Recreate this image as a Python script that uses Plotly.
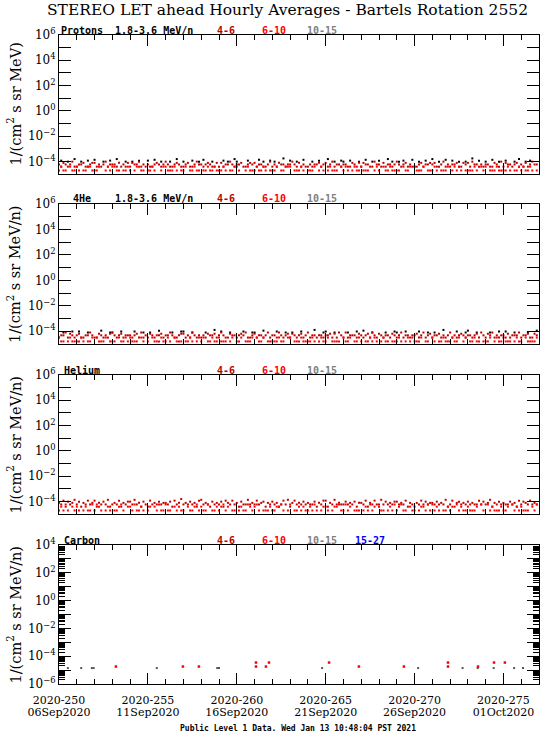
import plotly.graph_objects as go

# ---------------- data ----------------
START_DAY = 250          # 2020 day-of-year of first sample (06 Sep 2020)
STEP_HOURS = 3           # sample spacing of the hourly-average lists below

TITLE = "STEREO LET ahead Hourly Averages - Bartels Rotation 2552"
FOOTER = "Public Level 1 Data. Wed Jan 13 10:48:04 PST 2021"

x_tickvals = [250, 255, 260, 265, 270, 275]
x_ticktext_doy = ["2020-250", "2020-255", "2020-260", "2020-265", "2020-270", "2020-275"]
x_ticktext_date = ["06Sep2020", "11Sep2020", "16Sep2020", "21Sep2020", "26Sep2020", "01Oct2020"]

# flux per count (1/(cm^2 s sr MeV/n)) for each panel
unit_protons = 1.9e-5
unit_4he = 1.6e-5
unit_helium = 1.9e-5

# Protons: counts per sample (0 = no data)
protons_18_36 = [
    0,6,0,0,5,0,0,8, 0,0,5,0,0,6,0,0, 7,0,0,0,5,0,0,6, 0,0,8,0,0,0,5,0,
    0,5,0,0,6,0,0,0, 6,0,0,7,0,0,5,0, 0,0,5,0,0,8,0,0, 5,0,0,0,6,0,0,5,
    0,7,0,0,0,5,0,0, 0,0,6,0,5,0,0,8, 5,0,0,0,0,6,0,0, 0,0,7,0,5,0,0,6,
    0,5,0,0,0,9,0,0, 6,0,0,5,0,0,7,0, 0,0,5,0,0,6,0,0, 0,8,0,0,5,0,0,6,
    5,0,0,6,0,0,0,5, 0,0,7,0,0,5,0,0, 6,0,0,0,8,0,5,0, 0,5,0,6,0,0,0,7,
    0,0,5,0,0,6,0,0, 8,0,0,5,0,0,7,0, 0,6,0,0,5,0,0,5, 0,0,9,0,0,6,0,0,
    5,0,0,7,0,0,5,0, 0,6,0,0,0,5,0,8, 0,0,5,0,6,0,0,0]
protons_4_6 = [
    3,2,4,3,2,3,5,2, 2,3,3,4,2,2,3,4, 4,2,3,2,3,5,2,3, 3,3,2,4,2,3,2,4,
    2,4,3,3,5,2,3,2, 3,2,2,3,4,3,2,3, 5,3,2,2,3,4,3,2, 2,3,4,2,2,3,5,3,
    3,2,3,4,3,2,2,4, 2,4,2,3,3,5,3,2, 3,3,4,2,2,3,4,3, 4,2,3,3,2,2,3,5,
    2,3,2,4,3,3,2,3, 3,5,3,2,4,2,3,2, 2,3,2,3,3,4,2,3, 4,2,3,5,2,3,3,2,
    3,3,2,2,4,3,2,4, 2,4,3,3,2,2,5,3, 3,2,4,2,3,3,2,3, 5,3,2,3,4,2,3,2,
    2,2,3,4,2,3,3,4, 3,4,2,2,3,5,2,3, 2,3,3,4,2,2,4,3, 4,2,5,3,3,2,3,2,
    3,3,2,2,4,3,2,5, 2,4,3,3,2,3,4,2, 3,2,4,2,3,5,3,3]
protons_6_10 = [
    1,2,1,1,0,2,1,1, 2,1,0,1,1,2,2,1, 1,1,2,0,0,1,2,1, 2,2,1,1,0,1,1,2,
    1,0,1,2,2,1,1,0, 1,1,2,1,0,0,1,2, 2,1,1,1,2,1,0,1, 1,2,0,1,1,2,1,1,
    0,1,1,2,1,1,2,1, 1,1,2,1,0,1,1,2, 2,1,0,0,1,2,1,1, 1,2,1,1,2,1,0,1,
    1,1,2,0,1,1,2,2, 2,0,1,1,1,2,1,0, 1,1,1,2,0,1,2,1, 0,1,2,1,1,1,0,2,
    1,2,1,0,1,2,1,1, 2,1,1,1,0,0,1,2, 1,0,2,1,1,2,1,1, 1,1,0,2,1,1,2,0,
    2,1,1,1,2,0,1,1, 1,2,1,0,1,1,1,2, 0,1,2,1,2,1,0,1, 1,1,1,2,1,0,2,1,
    2,0,1,1,1,2,1,1, 1,1,2,1,0,1,1,2, 1,2,1,1,2,1,0,1]

# 4He
he4_18_36 = [
    0,0,5,0,0,0,6,0, 0,6,0,0,0,5,0,0, 0,0,0,7,0,0,0,5, 5,0,0,0,6,0,0,0,
    0,0,6,0,0,0,5,0, 0,5,0,0,0,7,0,0, 0,0,0,5,0,0,0,6, 6,0,0,0,5,0,0,0,
    0,0,5,0,0,0,8,0, 0,6,0,0,0,5,0,0, 0,0,0,6,0,0,0,5, 5,0,0,0,7,0,0,0,
    0,0,6,0,0,0,5,0, 0,5,0,0,0,6,0,0, 0,0,0,8,0,0,0,5, 6,0,0,0,5,0,0,0,
    0,0,5,0,0,0,6,0, 0,7,0,0,0,5,0,0, 0,0,0,5,0,0,0,6, 5,0,0,0,6,0,0,0,
    0,0,6,0,0,0,5,0, 0,5,0,0,0,8,0,0, 0,0,0,6,0,0,0,5, 7,0,0,0,5,0,0,0,
    0,0,5,0,0,0,6,0, 0,6,0,0,0,5,0,0, 0,0,0,5,0,0,0,7]
he4_4_6 = [
    2,3,3,5,2,4,3,2, 3,4,2,2,3,3,5,3, 2,2,4,3,2,3,2,4, 5,3,2,3,4,2,3,3,
    3,2,3,4,2,5,2,3, 2,4,3,2,3,3,4,2, 3,3,5,3,2,2,3,4, 4,2,3,2,5,3,2,3,
    2,3,2,4,3,3,4,2, 3,5,3,2,2,4,3,3, 2,3,4,3,5,2,2,3, 4,2,3,3,2,3,5,2,
    3,3,2,5,3,2,3,4, 2,4,3,2,3,4,2,3, 5,2,3,3,2,3,3,2, 3,3,4,2,4,2,5,3,
    2,5,2,3,3,3,2,4, 3,2,3,4,2,5,3,2, 4,3,2,3,3,2,4,3, 2,3,5,2,3,3,2,3,
    3,4,2,3,5,2,3,4, 2,3,3,4,2,3,2,3, 5,2,3,2,3,4,3,2, 3,3,2,3,4,2,5,3,
    2,4,3,5,2,3,2,3, 3,2,4,2,3,3,3,5, 2,3,3,4,2,2,4,3]
he4_6_10 = [
    2,1,1,0,1,2,1,1, 1,1,2,1,0,1,1,2, 0,2,1,1,1,2,0,1, 1,1,0,2,1,1,2,1,
    2,1,1,1,0,2,1,0, 1,0,2,1,1,1,2,1, 1,2,1,0,2,1,1,1, 0,1,1,2,1,0,1,2,
    1,2,0,1,1,2,1,1, 2,1,1,1,0,1,2,0, 1,1,2,0,1,1,1,2, 0,2,1,1,2,0,1,1,
    1,1,1,2,1,1,0,2, 2,0,1,1,1,2,1,1, 1,1,2,1,0,1,2,1, 1,2,0,1,1,1,1,0,
    2,1,1,2,0,1,1,2, 1,0,1,1,2,1,2,1, 0,1,2,1,1,0,1,1, 1,2,1,0,1,2,1,2,
    1,1,1,2,0,1,1,0, 2,1,0,1,1,2,1,1, 1,2,1,1,2,0,1,2, 0,1,1,2,1,1,0,1,
    1,1,2,0,1,2,1,1, 2,1,1,1,0,1,2,1, 1,0,2,1,1,1,1,2]

# Helium
helium_4_6 = [
    4,3,6,2,5,3,4,7, 3,5,2,4,3,6,3,4, 6,2,4,3,5,3,7,2, 3,4,3,6,2,4,3,5,
    5,3,7,3,4,2,5,3, 2,6,3,4,3,5,3,4, 4,3,5,2,6,3,4,8, 3,4,3,5,3,4,2,6,
    7,3,4,3,2,5,3,4, 3,5,2,6,4,3,6,3, 4,2,5,3,3,7,3,4, 3,6,3,4,5,2,4,3,
    5,3,4,2,3,6,3,7, 2,4,6,3,4,3,5,3, 4,3,3,5,2,4,3,6, 6,2,4,3,7,3,4,3,
    3,5,3,4,3,5,2,4, 4,3,6,2,4,3,6,3, 3,7,3,5,3,4,3,5, 5,3,4,3,6,2,4,3,
    2,4,3,6,3,5,3,4, 4,3,5,3,4,3,7,2, 3,6,2,4,5,3,4,3, 5,3,4,3,3,6,3,5,
    3,4,7,2,4,3,5,3, 4,3,3,5,3,4,2,6, 3,5,4,3,6,3,4,3]
helium_6_10 = [
    1,2,1,3,1,0,2,1, 2,1,0,1,2,1,1,3, 1,3,2,1,0,1,2,1, 0,1,1,2,3,1,0,2,
    2,1,3,1,1,2,1,0, 1,2,0,2,1,3,1,1, 3,1,1,0,2,1,2,1, 1,0,2,1,1,2,3,1,
    2,1,1,3,0,1,1,2, 1,2,3,1,2,0,1,1, 0,1,2,1,1,3,2,1, 2,3,1,0,1,1,1,2,
    1,1,2,2,3,1,0,1, 3,0,1,1,2,1,2,1, 1,2,1,3,1,0,1,2, 2,1,0,1,2,2,3,1,
    1,3,1,2,0,1,1,1, 0,1,2,1,3,1,2,0, 2,1,1,0,1,2,1,3, 1,2,3,1,1,0,2,1,
    1,0,1,2,2,1,3,1, 3,1,2,1,0,1,1,2, 1,2,0,3,1,2,1,1, 2,1,1,1,2,0,3,1,
    0,3,1,2,1,1,1,2, 1,1,2,0,3,1,2,1, 2,1,1,1,0,2,1,3]

# Carbon (sparse): day-of-year and flux
carbon_10_15_day = [250.5, 251.25, 251.85, 251.95, 255.5, 258.9, 259.0, 264.8,
                    270.2, 272.7, 273.55, 274.45, 275.6, 276.1]
carbon_10_15_val = [1.4e-5, 1.4e-5, 1.4e-5, 1.4e-5, 1.4e-5, 1.4e-5, 1.4e-5, 1.4e-5,
                    1.4e-5, 1.4e-5, 1.4e-5, 1.4e-5, 1.4e-5, 1.4e-5]
carbon_6_10_day = [253.2, 256.97, 257.87, 261.08, 261.08, 261.64, 261.81, 265.19,
                   266.87, 269.4, 271.88, 271.88, 273.57, 274.47, 275.08]
carbon_6_10_val = [1.8e-5, 1.8e-5, 1.8e-5, 3.5e-5, 1.8e-5, 1.8e-5, 3.5e-5, 3.5e-5,
                   1.8e-5, 1.8e-5, 3.5e-5, 1.8e-5, 1.8e-5, 3.5e-5, 3.5e-5]

# ---------------- styling ----------------
W, H = 550, 734
C_BLACK, C_DRED, C_RED, C_GRAY, C_BLUE = "#000000", "#c00000", "#ff0000", "#808080", "#0000ff"
SERIF = "DejaVu Serif"
MONO = "DejaVu Sans Mono"

# panel pixel boxes in window pixels (top, bottom)
boxes = [(35, 174), (204, 344), (375, 514), (545, 684)]
X0, X1 = 59, 539


def px(x):
    return x / W


def py(y):
    return 1 - y / H


def days(n):
    return [START_DAY + i * STEP_HOURS / 24 for i in range(n)]


def flux(counts, unit):
    return [c * unit if c > 0 else None for c in counts]


fig = go.Figure()


def add(panel, x, y, color, size=2):
    ax = "" if panel == 1 else str(panel)
    fig.add_trace(go.Scatter(x=x, y=y, mode="markers", xaxis="x" + ax, yaxis="y" + ax,
                             marker=dict(symbol="square", size=size, color=color, line=dict(width=0)),
                             showlegend=False, hoverinfo="skip"))


add(1, days(len(protons_18_36)), flux(protons_18_36, unit_protons), C_BLACK)
add(1, days(len(protons_4_6)), flux(protons_4_6, unit_protons), C_DRED)
add(1, days(len(protons_6_10)), flux(protons_6_10, unit_protons), C_RED)
add(2, days(len(he4_18_36)), flux(he4_18_36, unit_4he), C_BLACK)
add(2, days(len(he4_4_6)), flux(he4_4_6, unit_4he), C_DRED)
add(2, days(len(he4_6_10)), flux(he4_6_10, unit_4he), C_RED)
add(3, days(len(helium_4_6)), flux(helium_4_6, unit_helium), C_DRED)
add(3, days(len(helium_6_10)), flux(helium_6_10, unit_helium), C_RED)
add(4, carbon_10_15_day, carbon_10_15_val, "#555555", 2)
add(4, carbon_6_10_day, carbon_6_10_val, C_RED, 2.5)


def ytext(lo, hi):
    vals, txt = [], []
    for k in range(lo, hi + 1):
        vals.append(10.0 ** k)
        txt.append(("10<sup>%d</sup>" % k).replace("-", "\u2212") if (k % 2 == 0) else "")
    return vals, txt


layout = dict(width=W, height=H, margin=dict(l=0, r=0, t=0, b=0), autosize=False,
              paper_bgcolor="white", plot_bgcolor="white", showlegend=False)

XFONT = dict(family=SERIF, size=11, color="black")
for i, (top, bot) in enumerate(boxes):
    n = i + 1
    ax = "" if n == 1 else str(n)
    dom_y = [py(bot), py(top)]
    last = (n == 4)
    layout["xaxis" + ax] = dict(
        domain=[px(X0), px(X1)], anchor="y" + ax, range=[250, 277], automargin=False,
        tickmode="array", tickvals=x_tickvals, ticktext=x_ticktext_doy,
        showticklabels=last, ticklabelstandoff=6,
        ticks="inside", ticklen=11, tickwidth=1, tickcolor="black",
        showline=True, linecolor="black", linewidth=1, mirror="ticks",
        showgrid=False, zeroline=False, tickfont=XFONT,
        minor=dict(tick0=250, dtick=1, ticks="inside", ticklen=5, tickcolor="black", showgrid=False),
    )
    if last:
        lo, hi = -6, 4
    else:
        lo, hi = -5, 6
    tv, tt = ytext(lo, hi)
    yd = dict(
        domain=dom_y, anchor="x" + ax, type="log", range=[lo, hi], automargin=False,
        tickmode="array", tickvals=tv, ticktext=tt,
        ticks="inside", ticklen=12, tickwidth=1, tickcolor="black",
        showline=True, linecolor="black", linewidth=1, mirror="ticks",
        showgrid=False, zeroline=False,
        tickfont=dict(family=SERIF, size=12, color="black"),
    )
    if last:
        yd["minor"] = dict(tickmode="array",
                           tickvals=[m * 10.0 ** k for k in range(lo, hi) for m in range(2, 10)],
                           ticks="inside", ticklen=6, tickcolor="black", showgrid=False)
    layout["yaxis" + ax] = yd

# second line of the bottom date labels
layout["xaxis5"] = dict(
    domain=[px(X0), px(X1)], anchor="y4", overlaying="x4", side="bottom",
    range=[250, 277], automargin=False, tickmode="array", tickvals=x_tickvals,
    ticktext=x_ticktext_date, ticks="", showline=False, showgrid=False, zeroline=False,
    ticklabelstandoff=20, tickfont=XFONT,
)
fig.add_trace(go.Scatter(x=[250], y=[None], xaxis="x5", yaxis="y4", mode="markers",
                         showlegend=False, hoverinfo="skip"))

fig.update_layout(**layout)

ann = []
ann.append(dict(text=TITLE, x=px(287), y=py(10), xref="paper", yref="paper",
                showarrow=False, xanchor="center", yanchor="middle",
                font=dict(family=SERIF, size=15.5, color="black")))
ann.append(dict(text="<b>" + FOOTER + "</b>", x=px(298), y=py(728), xref="paper", yref="paper",
                showarrow=False, xanchor="center", yanchor="middle",
                font=dict(family=MONO, size=8, color="black")))

ylabels = ["1/(cm<sup>2</sup> s sr MeV)", "1/(cm<sup>2</sup> s sr MeV/n)",
           "1/(cm<sup>2</sup> s sr MeV/n)", "1/(cm<sup>2</sup> s sr MeV/n)"]
names = ["Protons", "4He", "Helium", "Carbon"]
energy = ["1.8-3.6 MeV/n", "1.8-3.6 MeV/n", "", ""]
for i, (top, bot) in enumerate(boxes):
    cy = py((top + bot) / 2)
    ann.append(dict(text=ylabels[i], x=px(14), y=cy, xref="paper", yref="paper", textangle=-90,
                    showarrow=False, xanchor="center", yanchor="middle",
                    font=dict(family=SERIF, size=14.5, color="black")))
    ly = py(top - 5)
    items = [(names[i], 82, C_BLACK)]
    if energy[i]:
        items.append((energy[i], 154, C_BLACK))
    items += [("4-6", 226, C_DRED), ("6-10", 274, C_RED), ("10-15", 322, C_GRAY)]
    if i == 3:
        items.append(("15-27", 370, C_BLUE))
    for txt, cx, col in items:
        ann.append(dict(text="<b>" + txt + "</b>", x=px(cx), y=ly, xref="paper", yref="paper",
                        showarrow=False, xanchor="center", yanchor="middle",
                        font=dict(family=MONO, size=10, color=col)))

fig.update_layout(annotations=ann)
fig.write_html("out.html", config={"displayModeBar": False},
               post_script="document.body.style.margin='0px';document.body.style.padding='0px';")
